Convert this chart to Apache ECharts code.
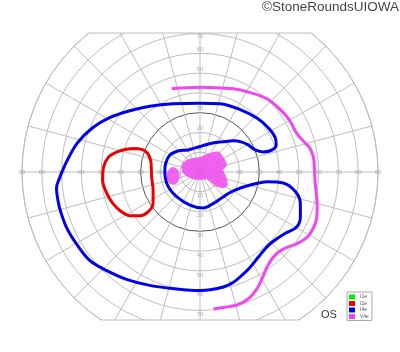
<!DOCTYPE html>
<html><head><meta charset="utf-8">
<script src="https://cdn.jsdelivr.net/npm/echarts@6/dist/echarts.min.js"></script>
<style>html,body{margin:0;padding:0;background:#fff}#c{width:400px;height:352px}</style>
</head><body><div id="c"></div>
<script>
// Goldmann visual field, left eye (OS). Points are [eccentricity (deg), meridian angle (deg, 0 = right, CCW)]
const isopterNames = ['I1e', 'I2e', 'I4e', 'V4e'];
const I1e = [];
const I2e = [[36.0,160.7],[31.6,158.8],[28.3,160.1],[25.5,167.3],[24.6,177.6],[24.6,187.1],[25.4,201.1],[28.5,213.6],[32.9,217.5],[37.6,216.0],[41.8,211.9],[44.7,206.3],[46.9,199.6],[48.5,192.1],[49.4,184.7],[48.8,177.0],[46.8,170.6],[43.3,166.5],[39.7,163.3],[36.0,160.7]];
const I4e = [[73.3,194.0],[73.0,186.4],[71.1,182.5],[67.3,174.8],[63.7,166.6],[58.7,157.6],[53.3,149.0],[47.1,138.9],[41.8,127.4],[37.1,111.7],[34.8,90],[36.0,73.6],[37.5,57.2],[39.7,43.2],[41.1,32.9],[41.8,24.4],[40.9,19.6],[38.2,17.0],[33.6,17.6],[30.1,21.8],[27.9,29.4],[25.8,36.2],[23.0,43.2],[18.9,53.7],[16.1,65.9],[13.9,79.5],[12.9,90],[12.7,118.6],[15.4,136.3],[17.5,150.5],[17.9,165.2],[17.8,176.7],[17.8,189.9],[17.7,205.5],[17.2,225],[17.5,253.1],[18.3,274.8],[17.3,292.4],[17.2,312.6],[19.3,330.5],[26.2,345.4],[34.4,351.8],[42.5,352.5],[49.2,348.4],[53.1,342.8],[55.6,335.9],[56.2,330.2],[53.1,324.3],[50.9,315.9],[50.9,310.4],[52.2,304.3],[54.4,297.8],[56.4,292.0],[58.3,286.7],[59.3,281.4],[59.8,274.9],[59.9,270],[60.3,258.7],[62.7,246.1],[65.8,235.6],[68.7,226.4],[71.5,218.7],[72.3,210.0],[73.1,202.3],[73.3,194.0]];
const V4e = [[44.5,108.8],[42.9,90],[45.3,68.3],[47.5,57.7],[50.2,47.6],[51.4,37.8],[52.3,30.3],[52.6,22.1],[54.7,16.3],[57.0,11.8],[57.9,6.0],[57.9,0],[58.8,353.1],[61.3,345.0],[63.3,339.0],[63.9,334.2],[63.5,328.8],[61.0,323.6],[58.2,319.1],[56.7,314.5],[57.0,309.7],[58.8,305.2],[62.3,300.3],[65.7,296.0],[68.6,290.9],[69.8,285.5],[69.5,280.5],[69.6,275.6]];
// Central shaded area (around fixation) and the small separate spot
const centralArea = [[11.7,5],[14.0,14.7],[14.1,25.6],[14.0,38],[13.8,48.4],[11.5,58.8],[9.0,73.6],[7.6,90],[8.1,121],[9.3,141.7],[9.7,164],[9.0,180],[7.8,191],[5.9,211],[4.2,256],[5.0,312.5],[8.2,316.8],[11.3,318.6],[14.2,325],[15.5,334.9],[13.9,347],[11.7,365]];
const centralSpot = [[13.7,188.5]];
// Tick labels
const hTicks = [20,30,40,50,60,70,80,90];
const vTicks = [10,20,30,40,50,60,70];

const colors = {I1e:'#00ee00', I2e:'#ee0000', I4e:'#0000ee', V4e:'#f048f0'};
const CX = 200, CY = 172, R = 178, TOPY = 33, BOTY = 320;

const ringColors = [];
for (let i = 0; i <= 9; i++) ringColors.push(i === 3 ? '#555' : '#bdbdbd');

function tickSeries(vals, ang, offset, lastOffset) {
  return {
    type: 'scatter', coordinateSystem: 'polar', symbolSize: 0, silent: true, z: 3,
    data: vals.map((v, i) => (lastOffset && i === vals.length - 1)
      ? {value: [v, ang], label: {offset: lastOffset}} : {value: [v, ang]}),
    label: {show: true, position: 'inside', offset: offset, formatter: p => String(p.value[0]),
            fontSize: 6, color: '#999', fontFamily: 'Liberation Sans'}
  };
}
function isopter(name, data) {
  return {name, type: 'line', coordinateSystem: 'polar', data, symbol: 'none', smooth: 0.35,
          lineStyle: {color: colors[name], width: 3}, itemStyle: {color: colors[name]}, z: 5};
}

const chart = echarts.init(document.getElementById('c'), null, {renderer: 'canvas'});
const halfTop = Math.sqrt(R*R - (CY-TOPY)*(CY-TOPY));
const halfBot = Math.sqrt(R*R - (BOTY-CY)*(BOTY-CY));
chart.setOption({
  animation: false,
  backgroundColor: '#fff',
  title: [
    {text: '©StoneRoundsUIOWA', right: 1, top: 0, padding: 0, z: 100,
     textStyle: {fontSize: 13.5, fontWeight: 'normal', color: '#444', fontFamily: 'Liberation Sans'}},
    {text: 'OS', left: 321, top: 309, padding: 0, z: 100,
     textStyle: {fontSize: 11, fontWeight: 'normal', color: '#333', fontFamily: 'Liberation Sans'}}
  ],
  legend: {
    orient: 'vertical', left: 347, top: 292, z: 100,
    data: isopterNames.map(n => ({name: n, icon: 'rect'})),
    itemWidth: 6, itemHeight: 5, itemGap: 0.5, padding: [2,3,1,2],
    borderColor: '#aaa', borderWidth: 1, backgroundColor: '#fff',
    textStyle: {fontSize: 5, lineHeight: 6, color: '#555', fontFamily: 'Liberation Sans'},
    selectedMode: false
  },
  polar: {center: [CX, CY], radius: R},
  angleAxis: {
    type: 'value', min: 0, max: 360, interval: 15, startAngle: 0, clockwise: false,
    axisLine: {show: true, lineStyle: {color: '#bdbdbd', width: 1}},
    axisTick: {show: false}, axisLabel: {show: false},
    splitLine: {show: true, lineStyle: {color: '#bdbdbd', width: 1}}
  },
  radiusAxis: {
    type: 'value', min: 0, max: 90, interval: 10,
    axisLine: {show: false}, axisTick: {show: false}, axisLabel: {show: false},
    splitLine: {show: true, lineStyle: {color: ringColors, width: 1}}
  },
  graphic: [
    {type: 'rect', shape: {x: 0, y: 0, width: 400, height: TOPY}, style: {fill: '#fff'}, z: 50, silent: true},
    {type: 'rect', shape: {x: 0, y: BOTY, width: 400, height: 352 - BOTY}, style: {fill: '#fff'}, z: 50, silent: true},
    {type: 'line', shape: {x1: CX - halfTop, y1: TOPY, x2: CX + halfTop, y2: TOPY}, style: {stroke: '#bdbdbd', lineWidth: 1}, z: 51, silent: true},
    {type: 'line', shape: {x1: CX - halfBot, y1: BOTY, x2: CX + halfBot, y2: BOTY}, style: {stroke: '#bdbdbd', lineWidth: 1}, z: 51, silent: true}
  ],
  series: [
    {name: 'central', type: 'line', coordinateSystem: 'polar', data: centralArea, symbol: 'none', smooth: 0.3,
     lineStyle: {width: 0}, areaStyle: {color: '#f048f0', opacity: 0.85}, z: 2, silent: true},
    {name: 'spot', type: 'scatter', coordinateSystem: 'polar', data: centralSpot, symbol: 'circle',
     symbolSize: [13, 18], itemStyle: {color: '#f048f0', opacity: 0.85}, z: 2, silent: true},
    tickSeries(hTicks, 0, [0, 0]),
    tickSeries(hTicks, 180, [0, 0]),
    tickSeries(vTicks, 90, [0, -4], [0, 3]),
    tickSeries(vTicks, 270, [0, 4]),
    isopter('I1e', I1e),
    isopter('I2e', I2e),
    isopter('I4e', I4e),
    isopter('V4e', V4e)
  ]
});
</script></body></html>
